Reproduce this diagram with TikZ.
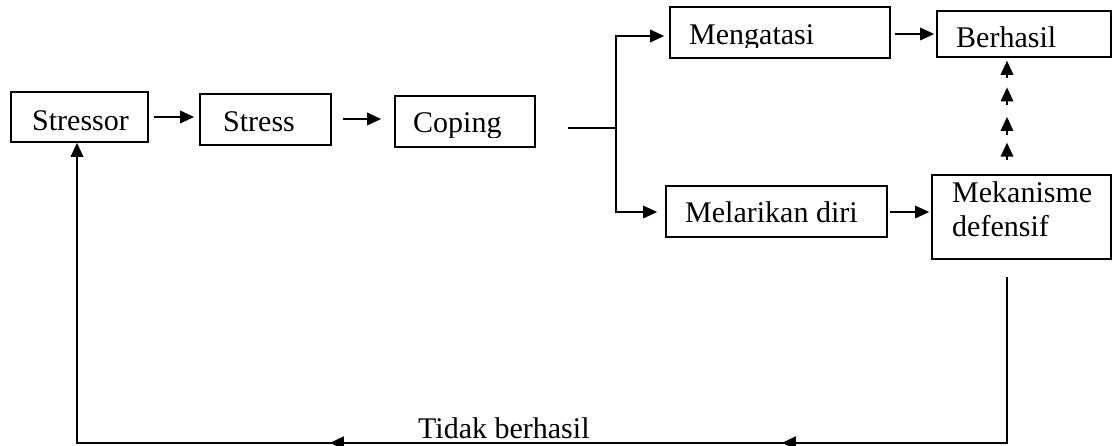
\documentclass[tikz,border=0pt]{standalone}
\usepackage{fontspec}
\setmainfont{Liberation Serif}
\usetikzlibrary{arrows.meta,calc}
\begin{document}
\begin{tikzpicture}[x=1pt,y=-1pt,
  box/.style={draw,line width=1.7pt,inner sep=0pt},
  lbl/.style={anchor=base west,inner sep=0pt,font=\fontsize{30}{34}\selectfont},
  arr/.style={line width=1.8pt,-{Triangle[length=14pt,width=12.5pt]}},
  thickarr/.style={line width=2.6pt,-{Triangle[length=14pt,width=12.5pt]}},
  ln/.style={line width=1.8pt}]
\useasboundingbox (0,0) rectangle (1114,446);

% boxes
\node[box,minimum width=137pt,minimum height=50pt] (stressor) at (79.5,117) {};
\node[box,minimum width=131pt,minimum height=51pt] (stress) at (265.5,119.5) {};
\node[box,minimum width=140pt,minimum height=51pt] (coping) at (465,121.5) {};
\node[box,minimum width=220pt,minimum height=51pt] (mengatasi) at (780,32.5) {};
\node[box,minimum width=174pt,minimum height=46pt] (berhasil) at (1024,34) {};
\node[box,minimum width=221pt,minimum height=51pt] (melarikan) at (776.5,211.5) {};
\node[box,minimum width=179pt,minimum height=84pt] (mek) at (1021.5,217) {};

% texts
\node[lbl] (tstressor) at (32,131) {Stressor};
\node[lbl] (tstress) at (223,132) {Stress};
\begin{scope}
  \clip (395,90) rectangle (535,138);
  \node[lbl] (tcoping) at (413,133) {Coping};
\end{scope}
\begin{scope}
  \clip (670,0) rectangle (890,47.5);
  \node[lbl] (tmengatasi) at (689,45) {Mengatasi};
\end{scope}
\node[lbl] (tberhasil) at (956,48) {Berhasil};
\node[lbl] (tmelarikan) at (685,223) {Melarikan diri};
\node[lbl] (tmek1) at (952,203) {Mekanisme};
\node[lbl] (tmek2) at (952,237) {defensif};

% main chain
\draw[arr] ([xshift=5pt]stressor.east) -- ([xshift=-5pt]stressor.east -| stress.west);
\draw[arr] ([xshift=11pt,yshift=0.5pt]stress.east) -- ([xshift=-13pt,yshift=0.5pt]stress.east -| coping.west);

% split
\coordinate (split) at (616,128);
\draw[ln] ([xshift=32pt]coping.east |- split) -- (split);
\draw[arr] (split) |- ([xshift=-5pt,yshift=-3.5pt]mengatasi.west);
\draw[arr] (split) |- ([xshift=-8pt,yshift=-0.5pt]melarikan.west);

\draw[arr] ([xshift=4pt]mengatasi.east |- berhasil.west) -- ([xshift=-2pt]berhasil.west);
\draw[arr] ([xshift=2pt,yshift=-0.5pt]melarikan.east) -- ([xshift=-2pt,yshift=-0.5pt]melarikan.east -| mek.west);

% dashed arrows from Mekanisme defensif up to Berhasil
\coordinate (d0) at ([xshift=-14.5pt]mek.north);
\coordinate (d1) at (d0 |- berhasil.south);
\foreach \s/\e in {0.120/0.271,0.340/0.492,0.595/0.746,0.823/0.975}
  \draw[arr] ($(d0)!\s!(d1)$) -- ($(d0)!\e!(d1)$);

% return path
\coordinate (r0) at ([xshift=-14.5pt,yshift=-17pt]mek.south);
\coordinate (r1) at ([yshift=-166pt]r0);
\coordinate (l1) at ([xshift=-2.5pt]stressor.south |- r1);
\draw[arr] (r0) -- (r1) -- (l1) -- ([xshift=-2.5pt]stressor.south);
\draw[thickarr] ($(r1)!0.117!(l1)$) -- ($(r1)!0.242!(l1)$);
\draw[thickarr] ($(r1)!0.644!(l1)$) -- ($(r1)!0.728!(l1)$);
\node[lbl] (ttidak) at (418,438) {Tidak berhasil};
\end{tikzpicture}
\end{document}
